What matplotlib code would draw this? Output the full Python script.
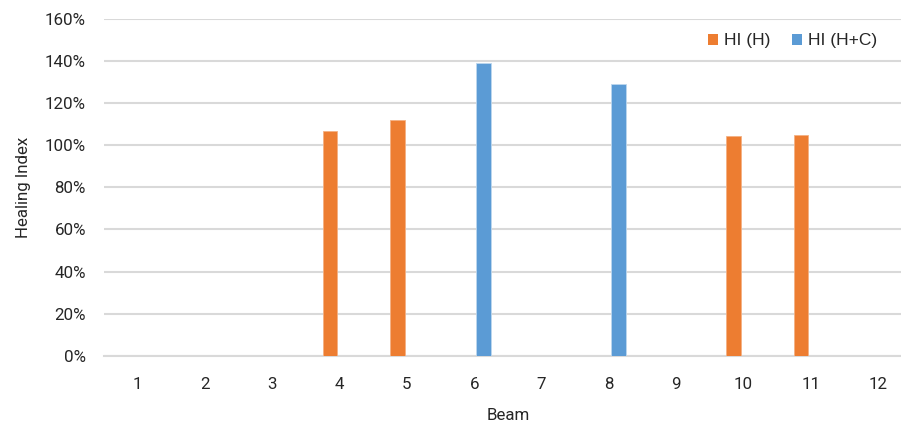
import numpy as np
import matplotlib
matplotlib.use("Agg")
import matplotlib.pyplot as plt
from matplotlib.patches import Patch
from matplotlib.ticker import FuncFormatter, MultipleLocator

# Beam categories and healing index per series (fractions, NaN = not tested)
beams = ["1", "2", "3", "4", "5", "6", "7", "8", "9", "10", "11", "12"]
hi_h = [np.nan, np.nan, np.nan, 1.067, 1.118, np.nan, np.nan, np.nan, np.nan, 1.044, 1.047, np.nan]
hi_hc = [np.nan, np.nan, np.nan, np.nan, np.nan, 1.392, np.nan, 1.289, np.nan, np.nan, np.nan, np.nan]
series_names = ["HI (H)", "HI (H+C)"]

ORANGE = "#ED7D31"
BLUE = "#5B9BD5"
GRID = "#D9D9D9"
TEXT = "#262626"

W, H = 901, 426
fig = plt.figure(figsize=(W / 100, H / 100), dpi=100)
ax = fig.add_axes([104 / W, 1 - 355.7 / H, 807.6 / W, (355.7 - 19) / H])

x = np.arange(len(beams))
bw = 0.218
off = 0.142
ax.bar(x - off, hi_h, width=bw, color=ORANGE, edgecolor="#F4B183", linewidth=0.6, zorder=3)
ax.bar(x + off, hi_hc, width=bw, color=BLUE, edgecolor="#BDD7EE", linewidth=0.6, zorder=3)

ax.set_xlim(-0.5, len(beams) - 0.5)
ax.set_ylim(0, 1.6)
ax.yaxis.set_major_locator(MultipleLocator(0.2))
ax.yaxis.set_major_formatter(FuncFormatter(lambda v, p: f"{v * 100:.0f}%"))
ax.grid(axis="y", color=GRID, linewidth=1.5, zorder=0)
ax.set_axisbelow(True)
for s in ["top", "right", "left"]:
    ax.spines[s].set_visible(False)
ax.spines["bottom"].set_color(GRID)
ax.spines["bottom"].set_linewidth(1.5)
ax.spines["bottom"].set_zorder(1)

ax.set_xticks(x)
ax.set_xticklabels(beams)
tick_font = dict(family="Roboto", size=12.2, color=TEXT)
for lab in ax.get_xticklabels() + ax.get_yticklabels():
    lab.set_fontfamily("Roboto")
    lab.set_fontsize(12.2)
    lab.set_color(TEXT)
ax.tick_params(axis="x", length=0, pad=15)
ax.tick_params(axis="y", length=0, pad=13)

ax.set_xlabel("Beam", fontfamily="Roboto", fontsize=12.2, color=TEXT, labelpad=12)
ax.set_ylabel("Healing Index", fontfamily="Roboto", fontsize=12.2, color=TEXT, labelpad=10)

handles = [Patch(facecolor=ORANGE), Patch(facecolor=BLUE)]
fig.legend(handles, series_names, loc="center left", bbox_to_anchor=(708 / W, 1 - 41 / H),
           ncol=2, frameon=False, handlelength=0.6, handleheight=0.6, handletextpad=0.35,
           columnspacing=1.2, borderpad=0, borderaxespad=0,
           prop={"family": "Liberation Sans", "size": 12.5})
for t in fig.legends[0].get_texts():
    t.set_color(TEXT)

fig.savefig("out.png", dpi=100)
